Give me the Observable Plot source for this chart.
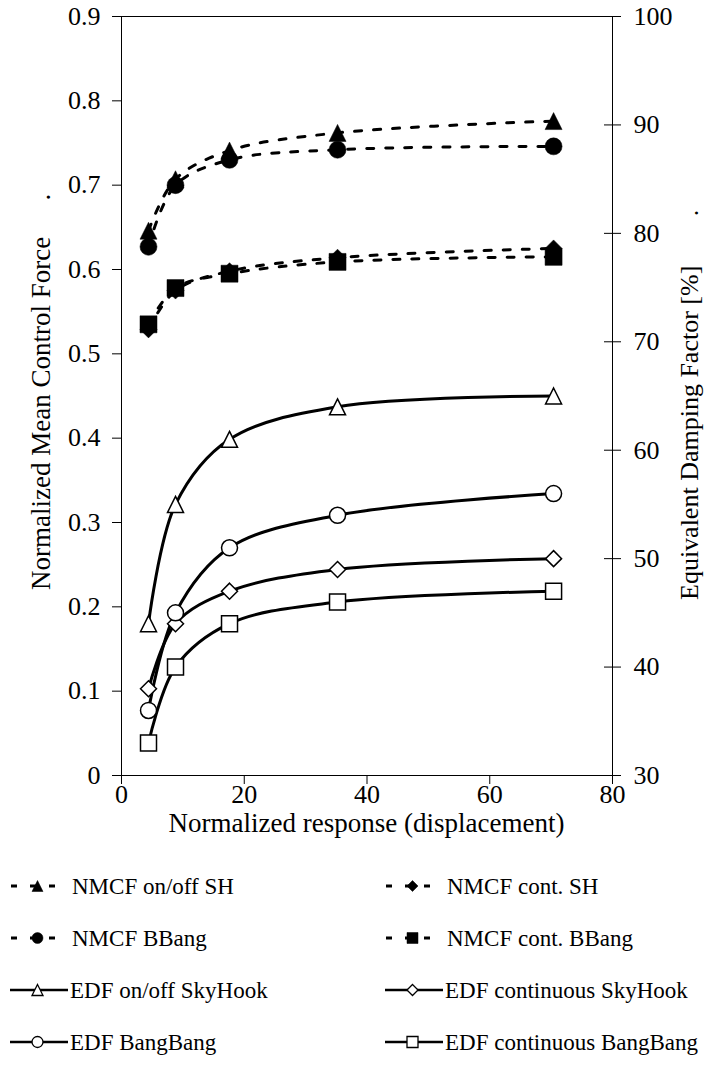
<!DOCTYPE html>
<html><head><meta charset="utf-8">
<script src="https://cdn.jsdelivr.net/npm/d3@7"></script>
<script src="https://cdn.jsdelivr.net/npm/@observablehq/plot@0.6"></script>
<style>
html,body{margin:0;padding:0;background:#fff;}
#chart svg,#legend svg{display:block;}
#chart svg text, #legend svg text{font-family:"Liberation Serif","DejaVu Serif",serif !important;}
</style></head><body><div id="chart"></div><div id="legend"></div>
<script>
// ---- data ----
const xValues = [4.4, 8.8, 17.6, 35.2, 70.4];
// Normalized Mean Control Force (left axis)
const nmcfOnOffSH   = [0.646, 0.707, 0.741, 0.762, 0.776];
const nmcfContSH    = [0.529, 0.575, 0.598, 0.614, 0.625];
const nmcfBBang     = [0.627, 0.700, 0.730, 0.742, 0.746];
const nmcfContBBang = [0.535, 0.578, 0.595, 0.609, 0.615];
// Equivalent Damping Factor [%] (right axis)
const edfOnOffSkyHook = [44, 55, 61, 64, 65];
const edfContSkyHook  = [38, 44, 47, 49, 50];
const edfBangBang     = [36, 45, 51, 54, 56];
const edfContBangBang = [33, 40, 44, 46, 47];
// ticks
const xTicks = [0, 20, 40, 60, 80];
const leftTicks = [0, 0.1, 0.2, 0.3, 0.4, 0.5, 0.6, 0.7, 0.8, 0.9];
const rightTicks = [30, 40, 50, 60, 70, 80, 90, 100];
const leftDomain = [0, 0.9];
const rightDomain = [30, 100];
const seriesNames = ["NMCF on/off SH", "NMCF cont. SH", "NMCF BBang", "NMCF cont. BBang",
  "EDF on/off SkyHook", "EDF continuous SkyHook", "EDF BangBang", "EDF continuous BangBang"];
const seriesValues = [nmcfOnOffSH, nmcfContSH, nmcfBBang, nmcfContBBang,
  edfOnOffSkyHook, edfContSkyHook, edfBangBang, edfContBangBang];
const xTitle = "Normalized response (displacement)";
const leftTitle = "Normalized Mean Control Force";
const rightTitle = "Equivalent Damping Factor [%]";

// ---- helpers ----
const toLeft = v => leftDomain[0] + (v - rightDomain[0]) / (rightDomain[1] - rightDomain[0]) * (leftDomain[1] - leftDomain[0]);
const fromLeft = v => rightDomain[0] + (v - leftDomain[0]) / (leftDomain[1] - leftDomain[0]) * (rightDomain[1] - rightDomain[0]);
const half = size => Math.sqrt(size / Math.PI);
const symTri = {draw(c, s){const h = half(s); c.moveTo(0,-h); c.lineTo(h,h); c.lineTo(-h,h); c.closePath();}};
const symSq = {draw(c, s){const h = half(s); c.rect(-h,-h,2*h,2*h);}};
const symDia = {draw(c, s){const h = half(s); c.moveTo(0,-h); c.lineTo(h,0); c.lineTo(0,h); c.lineTo(-h,0); c.closePath();}};
const symCirc = {draw(c, s){const h = half(s); c.moveTo(h,0); c.arc(0,0,h,0,2*Math.PI); c.closePath();}};
const shapeOf = [symTri, symDia, symCirc, symSq, symTri, symDia, symCirc, symSq];
const isNMCF = i => i < 4;

const rows = [];
seriesNames.forEach((name, i) => {
  seriesValues[i].forEach((v, j) => {
    rows.push({series: name, idx: i, x: xValues[j], y: isNMCF(i) ? v : toLeft(v)});
  });
});

const font = "Liberation Serif";

const marks = [
  Plot.frame({stroke: "black", strokeWidth: 1}),
  Plot.axisX({ticks: xTicks, tickSize: 9, tickPadding: 0, label: null, tickFormat: d => String(d), fontSize: 26}),
  Plot.axisY({anchor: "left", ticks: leftTicks, tickSize: 9, tickPadding: 12, label: null,
    tickFormat: d => d === 0 ? "0" : d.toFixed(1), fontSize: 26}),
  Plot.axisY({anchor: "right", ticks: rightTicks.map(toLeft), tickSize: 8, tickPadding: 13, label: null,
    tickFormat: d => String(Math.round(fromLeft(d))), fontSize: 26}),
  Plot.ruleY(rightTicks, {y: d => toLeft(d), x1: 80, x2: 80, insetLeft: -8, stroke: "black"}),
  Plot.line(rows.filter(d => isNMCF(d.idx)), {x: "x", y: "y", z: "series", curve: "catmull-rom",
    stroke: "black", strokeWidth: 3, strokeDasharray: "7,12"}),
  Plot.line(rows.filter(d => !isNMCF(d.idx)), {x: "x", y: "y", z: "series", curve: "catmull-rom",
    stroke: "black", strokeWidth: 3})
];
seriesNames.forEach((name, i) => {
  const filled = isNMCF(i);
  marks.push(Plot.dot(rows.filter(d => d.idx === i), {x: "x", y: "y", symbol: shapeOf[i],
    r: filled ? 8.5 : 8, fill: filled ? "black" : "white", stroke: "black", strokeWidth: filled ? 0.5 : 1.5}));
});

const chart = Plot.plot({
  width: 704, height: 845,
  marginLeft: 121, marginRight: 92, marginTop: 16, marginBottom: 70,
  x: {domain: [0, 80]},
  y: {domain: leftDomain},
  style: {fontFamily: font, fontSize: "26px", background: "white", color: "black", overflow: "visible"},
  marks
});
document.getElementById("chart").appendChild(chart);

const svg = d3.select(chart);
svg.append("text").attr("x", 366.5).attr("y", 832).attr("text-anchor", "middle")
  .attr("font-size", 27).attr("fill", "black").text(xTitle);
svg.append("text").attr("transform", "translate(50,590) rotate(-90)").attr("text-anchor", "start")
  .attr("font-size", 27).attr("fill", "black").text(leftTitle);
svg.append("text").attr("transform", "translate(50,197) rotate(-90)").attr("text-anchor", "middle")
  .attr("font-size", 27).attr("fill", "black").text(".");
svg.append("text").attr("transform", "translate(698,600) rotate(-90)").attr("text-anchor", "start")
  .attr("font-size", 26).attr("fill", "black").text(rightTitle);
svg.append("text").attr("transform", "translate(698,213) rotate(-90)").attr("text-anchor", "middle")
  .attr("font-size", 26).attr("fill", "black").text(".");

// ---- legend ----
const lg = d3.select("#legend").append("svg").attr("width", 704).attr("height", 232)
  .style("background", "white");
seriesNames.forEach((name, i) => {
  const col = i % 2, row = Math.floor(i / 2);
  const x0 = 10 + col * 375, y0 = 41 + row * 52;
  const g = lg.append("g").attr("transform", `translate(${x0},${y0})`);
  const filled = isNMCF(i);
  if (filled) {
    g.append("line").attr("x1", 1).attr("x2", 45).attr("y1", 0).attr("y2", 0)
      .attr("stroke", "black").attr("stroke-width", 3).attr("stroke-dasharray", "6,13");
  } else {
    g.append("line").attr("x1", 0).attr("x2", 58).attr("y1", 0).attr("y2", 0)
      .attr("stroke", "black").attr("stroke-width", 2.5);
  }
  const sz = Math.PI * 5.5 * 5.5;
  g.append("path").attr("transform", "translate(27.5,0)")
    .attr("d", d3.symbol().type(shapeOf[i]).size(sz)())
    .attr("fill", filled ? "black" : "white").attr("stroke", "black").attr("stroke-width", filled ? 0.5 : 1.3);
  g.append("text").attr("x", filled ? 62 : 60).attr("y", 7.6).attr("font-size", 23)
    .attr("fill", "black").text(name);
});
</script></body></html>
